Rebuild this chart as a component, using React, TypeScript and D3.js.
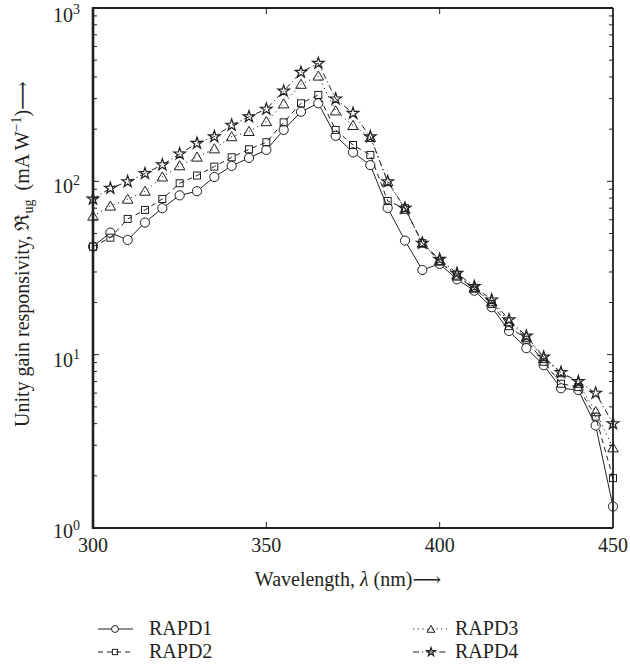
import React from "react";
import * as d3 from "d3";

const wavelengths = [300, 305, 310, 315, 320, 325, 330, 335, 340, 345, 350, 355, 360, 365, 370, 375, 380, 385, 390, 395, 400, 405, 410, 415, 420, 425, 430, 435, 440, 445, 450];
const rapd1 = [42, 50.6, 45.9, 57.8, 70, 83, 87.7, 106, 122.7, 136.5, 151.8, 198, 252, 282, 183, 147, 124, 70.2, 45.5, 30.8, 33.4, 27.2, 23.4, 18.8, 13.7, 10.9, 8.7, 6.4, 6.25, 3.9, 1.33];
const rapd2 = [42, 47.3, 60.7, 68.4, 79.1, 97.5, 108, 121.6, 137.7, 153, 168, 219, 282, 315, 198, 162, 142, 77, 70, 44, 34.4, 28.2, 24.2, 19.6, 14.6, 12.2, 9.1, 6.8, 6.5, 4.39, 1.94];
const rapd3 = [63, 72, 78.9, 87.7, 106, 123, 138, 154, 181, 194, 221, 280, 363, 405, 255, 210, 179, 99.6, 69, 44, 34.9, 28.8, 24.2, 20.2, 15.5, 12.6, 9.5, 7.87, 6.84, 4.69, 2.9];
const rapd4 = [79, 91.2, 99.6, 111, 124.5, 144, 166, 181, 211, 236, 261, 332, 426, 480, 299, 247, 181, 99.6, 70, 44, 35.5, 29.5, 24.7, 20.7, 15.9, 12.8, 9.7, 7.9, 7.0, 6.0, 4.0];
const seriesNames = ["RAPD1", "RAPD2", "RAPD3", "RAPD4"];
const xTicks = [300, 350, 400, 450];
const yDecades = [0, 1, 2, 3];

const FONT = "'Liberation Serif', 'DejaVu Serif', serif";
const INK = "#231f20";

const left = 93, right = 613, top = 8, bottom = 528;

const styles = [
  { dash: null as string | null, marker: "circle" },
  { dash: "5,4", marker: "square" },
  { dash: "1.2,3.5", marker: "triangle" },
  { dash: "6,3,1.2,3", marker: "star" },
];

function Marker({ kind, x, y, scale = 1 }: { kind: string; x: number; y: number; scale?: number }) {
  if (kind === "circle") return <circle cx={x} cy={y} r={4.6 * scale} fill="white" stroke={INK} strokeWidth={1} />;
  if (kind === "square") {
    const s = 7 * scale;
    return <rect x={x - s / 2} y={y - s / 2} width={s} height={s} fill="none" stroke={INK} strokeWidth={1} />;
  }
  if (kind === "triangle") {
    const p = d3.symbol(d3.symbolTriangle, 48 * scale * scale)();
    return <path d={p || ""} transform={`translate(${x},${y + 1})`} fill="none" stroke={INK} strokeWidth={1} />;
  }
  const p = d3.symbol(d3.symbolStar, 42 * scale * scale)();
  return <path d={p || ""} transform={`translate(${x},${y})`} fill="none" stroke={INK} strokeWidth={1.2} />;
}

export default function App() {
  const x = d3.scaleLinear().domain([300, 450]).range([left, right]);
  const y = d3.scaleLog().domain([1, 1000]).range([bottom, top]);
  const all = [rapd1, rapd2, rapd3, rapd4];
  const line = d3.line<number>().x((_, i) => x(wavelengths[i])).y((d) => y(d));

  const minor: number[] = [];
  for (const dec of [1, 10, 100]) for (let k = 2; k <= 9; k++) minor.push(dec * k);

  const legendPos = [
    { lx1: 98, lx2: 133, mx: 115, tx: 149, ty: 635 },
    { lx1: 98, lx2: 133, mx: 115, tx: 149, ty: 658 },
    { lx1: 413, lx2: 448, mx: 431, tx: 455, ty: 635 },
    { lx1: 413, lx2: 448, mx: 431, tx: 455, ty: 658 },
  ];

  return (
    <svg width={630} height={667} style={{ position: "absolute", left: 0, top: 0, background: "white" }} fontFamily={FONT}>
      <rect width={630} height={667} fill="white" />
      {all.map((s, si) => (
        <g key={si}>
          <path d={line(s) || ""} fill="none" stroke={INK} strokeWidth={1} strokeDasharray={styles[si].dash || undefined} />
          {s.map((v, i) => (
            <Marker key={i} kind={styles[si].marker} x={x(wavelengths[i])} y={y(v)} />
          ))}
        </g>
      ))}
      <line x1={left} x2={right} y1={top} y2={top} stroke={INK} strokeWidth={1.8} />
      <line x1={right} x2={right} y1={top} y2={bottom} stroke={INK} strokeWidth={1.8} />
      <line x1={left} x2={right} y1={bottom} y2={bottom} stroke={INK} strokeWidth={2.2} />
      <line x1={left} x2={left} y1={top - 1} y2={bottom + 1} stroke={INK} strokeWidth={2.6} />
      {minor.map((v) => (
        <g key={v}>
          <line x1={left} x2={left + 4} y1={y(v)} y2={y(v)} stroke={INK} strokeWidth={1} />
          <line x1={right} x2={right - 4} y1={y(v)} y2={y(v)} stroke={INK} strokeWidth={1} />
        </g>
      ))}
      {yDecades.map((d) => {
        const yy = y(Math.pow(10, d));
        return (
          <g key={d}>
            <line x1={left} x2={left + 6} y1={yy} y2={yy} stroke={INK} strokeWidth={1} />
            <line x1={right} x2={right - 6} y1={yy} y2={yy} stroke={INK} strokeWidth={1} />
            <text x={53} y={yy + (d === 0 ? 10 : d === 3 ? 14 : 12)} fontSize={20} fill={INK}>
              10<tspan dy={-8} fontSize={14}>{d}</tspan>
            </text>
          </g>
        );
      })}
      {xTicks.map((t) => (
        <g key={t}>
          {t !== 300 && t !== 450 && (
            <>
              <line x1={x(t)} x2={x(t)} y1={bottom} y2={bottom - 6} stroke={INK} strokeWidth={1} />
              <line x1={x(t)} x2={x(t)} y1={top} y2={top + 6} stroke={INK} strokeWidth={1} />
            </>
          )}
          <text x={x(t)} y={552} fontSize={20} textAnchor="middle" fill={INK}>{t}</text>
        </g>
      ))}
      <text x={(left + right) / 2 - 5} y={586} fontSize={20} textAnchor="middle" fill={INK}>
        Wavelength, <tspan fontStyle="italic">λ</tspan> (nm)⟶
      </text>
      <text transform={`translate(29,427) rotate(-90)`} fontSize={20} textAnchor="start" fill={INK}>
        Unity gain responsivity, ℜ<tspan dy={4} fontSize={14}>ug</tspan>
        <tspan dy={-4} dx={9}>(mA W</tspan>
        <tspan dy={-8} fontSize={14}>−1</tspan>
        <tspan dy={8}>)⟶</tspan>
      </text>
      {seriesNames.map((n, i) => {
        const p = legendPos[i];
        const ly = p.ty - 6;
        return (
          <g key={n}>
            <line x1={p.lx1} x2={p.lx2} y1={ly} y2={ly} stroke={INK} strokeWidth={1} strokeDasharray={styles[i].dash || undefined} />
            <Marker kind={styles[i].marker} x={p.mx} y={ly} scale={0.75} />
            <text x={p.tx} y={p.ty} fontSize={20} fill={INK}>{n}</text>
          </g>
        );
      })}
    </svg>
  );
}
